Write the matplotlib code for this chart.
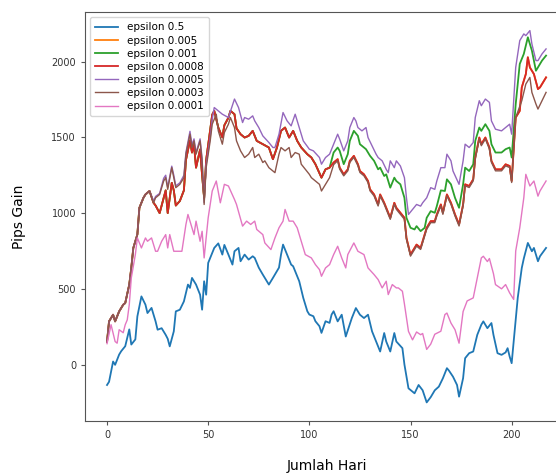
import matplotlib
matplotlib.use("Agg")
import matplotlib.pyplot as plt

# epsilon 0.5
blue_days = [0, 1, 3, 4, 6, 7, 9, 11, 12, 14, 15, 17, 19, 20, 22, 24, 25, 27, 29, 30, 31, 33, 34, 36, 38, 40, 41,
             42, 44, 46, 47, 48, 49, 50, 52, 53, 55, 57, 58, 60, 62, 63, 65, 66, 68, 70, 72, 73, 75, 77, 80, 82, 85,
             86, 87, 89, 91, 92, 95, 97, 99, 100, 102, 103, 105, 106, 108, 110, 111, 112, 114, 116, 118, 121, 123,
             125, 127, 129, 131, 133, 135, 137, 138, 140, 142, 143, 146, 147, 149, 152, 154, 156, 158, 160, 162, 164,
             166, 168, 169, 171, 173, 174, 176, 177, 179, 181, 183, 185, 186, 188, 190, 191, 193, 195, 197, 198, 199,
             200, 202, 203, 205, 206, 208, 210, 211, 213, 214, 217]
blue_vals = [-135, -114, 20, -2, 66, 88, 121, 232, 132, 166, 318, 450, 395, 340, 374, 285, 230, 240, 196, 170, 120,
             219, 351, 362, 417, 528, 506, 572, 528, 461, 362, 550, 461, 671, 737, 770, 800, 726, 790, 726, 660, 748,
             770, 682, 726, 693, 715, 704, 640, 594, 528, 572, 640, 726, 792, 726, 660, 649, 550, 440, 352, 330, 319,
             286, 253, 209, 286, 275, 330, 352, 285, 329, 185, 307, 373, 329, 307, 329, 219, 152, 86, 208, 152, 86,
             208, 152, 108, 0, -157, -190, -135, -170, -250, -215, -170, -146, -91, -24, -40, -80, -135, -212, -90,
             42, 75, 86, 196, 263, 285, 240, 274, 196, 75, 64, 80, 108, 53, 9, 300, 440, 638, 700, 803, 748, 770,
             682, 715, 770]

# epsilon 0.0001
pink_days = [0, 2, 4, 5, 6, 8, 9, 10, 11, 12, 14, 15, 17, 19, 20, 22, 24, 25, 27, 29, 30, 31, 33, 35, 37, 39, 40,
             41, 43, 44, 46, 47, 48, 50, 52, 54, 56, 58, 60, 63, 64, 67, 69, 71, 73, 74, 77, 78, 81, 83, 85, 87, 88,
             90, 92, 94, 96, 98, 101, 103, 105, 106, 108, 110, 112, 114, 116, 118, 119, 122, 124, 127, 129, 132, 134,
             136, 138, 139, 141, 143, 144, 146, 147, 149, 151, 153, 155, 156, 158, 160, 162, 165, 167, 168, 170, 172,
             174, 176, 178, 181, 183, 185, 186, 188, 189, 191, 192, 195, 197, 199, 201, 202, 204, 206, 207, 209, 211,
             213, 214, 217]
pink_vals = [138, 263, 152, 141, 230, 210, 263, 295, 395, 572, 726, 836, 770, 836, 814, 836, 748, 748, 814, 858, 770,
             858, 748, 748, 748, 925, 991, 947, 858, 947, 814, 880, 704, 969, 1146, 1212, 1068, 1190, 1179, 1090,
             1057, 914, 947, 925, 947, 892, 858, 803, 759, 836, 903, 947, 1024, 947, 947, 903, 814, 726, 704, 660,
             627, 583, 638, 660, 726, 781, 704, 638, 726, 803, 748, 726, 638, 594, 561, 506, 550, 462, 528, 506, 506,
             484, 400, 219, 163, 215, 197, 205, 100, 135, 200, 220, 330, 340, 274, 230, 141, 350, 420, 440, 572, 704,
             715, 680, 700, 600, 528, 500, 528, 473, 430, 750, 903, 1101, 1256, 1179, 1212, 1112, 1146, 1212]

# epsilon 0.0003
brown_days = [0, 1, 3, 4, 5, 6, 8, 9, 11, 12, 13, 15, 16, 18, 19, 21, 23, 24, 26, 28, 29, 30, 32, 33, 34, 36, 38,
              39, 41, 42, 43, 44, 46, 47, 48, 49, 51, 52, 54, 55, 57, 58, 60, 61, 63, 64, 66, 68, 70, 72, 73, 75, 77,
              78, 80, 82, 83, 85, 86, 88, 90, 91, 93, 95, 96, 98, 100, 101, 103, 105, 106, 108, 110, 112, 114, 115,
              117, 119, 120, 122, 124, 125, 127, 129, 130, 132, 134, 135, 137, 138, 140, 142, 143, 145, 147, 148, 150,
              151, 153, 155, 156, 158, 160, 162, 163, 165, 166, 168, 170, 172, 174, 176, 177, 179, 181, 182, 184, 185,
              187, 189, 190, 192, 195, 197, 199, 200, 202, 205, 207, 209, 210, 212, 213, 215, 217]
brown_vals = [150, 285, 329, 285, 318, 351, 395, 406, 528, 638, 770, 859, 1035, 1101, 1123, 1146, 1068, 1101, 1123,
              1212, 1234, 1157, 1300, 1234, 1168, 1190, 1234, 1389, 1521, 1433, 1477, 1389, 1477, 1345, 1057, 1300,
              1477, 1587, 1653, 1543, 1455, 1532, 1587, 1631, 1565, 1477, 1411, 1367, 1389, 1433, 1367, 1389, 1334,
              1345, 1300, 1278, 1267, 1389, 1433, 1411, 1433, 1367, 1400, 1389, 1323, 1289, 1256, 1234, 1212, 1190,
              1146, 1190, 1234, 1320, 1346, 1290, 1246, 1279, 1335, 1368, 1313, 1268, 1246, 1202, 1147, 1113, 1047,
              1113, 1058, 1025, 959, 1058, 1025, 992, 959, 826, 716, 738, 782, 760, 804, 893, 937, 937, 981, 1047,
              992, 1113, 1058, 981, 915, 1047, 1180, 1169, 1213, 1357, 1489, 1445, 1489, 1423, 1335, 1279, 1279, 1312,
              1301, 1202, 1631, 1742, 1852, 1896, 1797, 1720, 1687, 1742, 1797]

# epsilon 0.0008 (epsilon 0.005 lies under it)
red_days = [0, 1, 3, 4, 5, 6, 8, 9, 11, 12, 13, 15, 16, 18, 19, 21, 23, 24, 26, 28, 29, 30, 32, 33, 34, 36, 38, 39,
            41, 42, 43, 44, 46, 47, 48, 49, 51, 52, 53, 55, 57, 58, 60, 61, 63, 64, 66, 68, 70, 72, 74, 77, 80, 82,
            84, 86, 88, 90, 92, 94, 96, 99, 101, 103, 106, 108, 110, 112, 114, 115, 117, 119, 120, 122, 124, 125,
            127, 129, 130, 132, 134, 135, 137, 138, 140, 142, 143, 145, 147, 148, 150, 151, 153, 155, 156, 158, 160,
            162, 163, 165, 166, 168, 170, 172, 174, 176, 177, 179, 181, 182, 184, 185, 187, 189, 190, 192, 195, 197,
            199, 200, 202, 204, 205, 207, 208, 209, 211, 213, 214, 217]
red_vals = [150, 285, 329, 285, 318, 351, 395, 406, 528, 638, 770, 859, 1035, 1101, 1123, 1146, 1068, 1050, 1000,
            1100, 1150, 1000, 1200, 1150, 1050, 1080, 1150, 1350, 1480, 1400, 1450, 1300, 1420, 1250, 1100, 1350,
            1550, 1650, 1675, 1565, 1500, 1580, 1630, 1675, 1653, 1560, 1521, 1499, 1510, 1543, 1477, 1455, 1433,
            1356, 1433, 1543, 1565, 1499, 1543, 1477, 1433, 1389, 1367, 1323, 1234, 1289, 1300, 1334, 1356, 1300,
            1256, 1289, 1345, 1378, 1323, 1278, 1256, 1212, 1157, 1123, 1057, 1123, 1068, 1035, 969, 1068, 1035,
            1002, 969, 836, 726, 748, 792, 770, 814, 903, 947, 947, 991, 1057, 1002, 1123, 1068, 991, 925, 1057,
            1190, 1179, 1223, 1367, 1499, 1455, 1499, 1433, 1345, 1289, 1289, 1322, 1311, 1212, 1631, 1675, 1830,
            1918, 2029, 1962, 1918, 1819, 1830, 1896]

# epsilon 0.001 (under red before day 112)
green_days = [112, 114, 115, 117, 119, 120, 122, 124, 125, 127, 128, 130, 132, 134, 135, 137, 138, 140, 142, 143,
              145, 147, 148, 150, 152, 153, 155, 157, 158, 160, 162, 163, 165, 167, 168, 170, 172, 174, 176, 177,
              179, 181, 182, 184, 185, 187, 189, 190, 192, 195, 197, 199, 200, 202, 204, 206, 208, 210, 212, 213,
              215, 217]
green_vals = [1400, 1433, 1411, 1323, 1389, 1477, 1543, 1510, 1455, 1433, 1422, 1378, 1345, 1289, 1300, 1245, 1256,
              1168, 1234, 1212, 1190, 1101, 969, 903, 892, 914, 881, 903, 969, 1013, 1002, 1046, 1150, 1146, 1223,
              1190, 1101, 1035, 1190, 1300, 1278, 1322, 1477, 1565, 1543, 1587, 1543, 1455, 1400, 1400, 1422, 1433,
              1367, 1720, 1985, 2051, 2161, 2073, 1940, 1962, 2007, 2040]

# epsilon 0.0005
purple_days = [0, 1, 3, 4, 5, 6, 8, 9, 11, 12, 13, 15, 16, 18, 19, 21, 23, 24, 26, 28, 29, 30, 32, 33, 34, 36, 38,
               39, 41, 42, 43, 44, 46, 47, 48, 49, 51, 52, 53, 55, 57, 60, 63, 65, 67, 68, 70, 72, 73, 75, 77, 80,
               82, 83, 85, 87, 89, 91, 93, 95, 97, 100, 102, 105, 106, 108, 110, 112, 114, 115, 117, 119, 120, 122,
               123, 124, 126, 128, 129, 131, 133, 134, 136, 138, 139, 140, 142, 143, 145, 147, 148, 149, 151, 153,
               155, 156, 158, 160, 162, 163, 165, 167, 168, 170, 171, 174, 176, 177, 179, 181, 182, 184, 185, 187,
               189, 190, 192, 195, 197, 199, 200, 202, 204, 206, 207, 209, 210, 212, 213, 215, 217]
purple_vals = [150, 285, 329, 285, 318, 351, 395, 406, 528, 638, 770, 859, 1035, 1101, 1123, 1146, 1080, 1110,
               1130, 1230, 1250, 1170, 1310, 1250, 1180, 1200, 1250, 1400, 1540, 1450, 1490, 1400, 1490, 1360, 1070,
               1320, 1500, 1620, 1697, 1675, 1653, 1631, 1753, 1697, 1598, 1631, 1620, 1642, 1609, 1565, 1510, 1466,
               1433, 1433, 1521, 1664, 1609, 1576, 1653, 1565, 1477, 1422, 1411, 1367, 1323, 1367, 1389, 1455, 1521,
               1488, 1411, 1477, 1565, 1631, 1609, 1565, 1543, 1565, 1499, 1444, 1389, 1367, 1345, 1289, 1267, 1345,
               1300, 1345, 1311, 1234, 1101, 991, 1024, 1057, 1046, 1068, 1101, 1168, 1157, 1212, 1300, 1300, 1389,
               1345, 1278, 1190, 1345, 1455, 1433, 1466, 1631, 1742, 1709, 1753, 1731, 1609, 1554, 1543, 1565, 1587,
               1521, 1962, 2139, 2183, 2172, 2205, 2117, 2007, 2007, 2051, 2084]

# green follows red until it splits off
green_days = [d for d in red_days if d < 112] + green_days
green_vals = [v for d, v in zip(red_days, red_vals) if d < 112] + green_vals

fig = plt.figure(figsize=(5.56, 4.75), dpi=100)
ax = fig.add_axes([0.153, 0.1137, 0.8686, 0.861])

ax.plot(blue_days, blue_vals, color='#1f77b4', lw=1.3, label='epsilon 0.5')
ax.plot(red_days, red_vals, color='#ff7f0e', lw=1.3, label='epsilon 0.005')
ax.plot(green_days, green_vals, color='#2ca02c', lw=1.3, label='epsilon 0.001')
ax.plot(red_days, red_vals, color='#d62728', lw=1.3, label='epsilon 0.0008')
ax.plot(purple_days, purple_vals, color='#9467bd', lw=1.0, label='epsilon 0.0005')
ax.plot(brown_days, brown_vals, color='#8c564b', lw=1.0, label='epsilon 0.0003')
ax.plot(pink_days, pink_vals, color='#e377c2', lw=1.0, label='epsilon 0.0001')

ax.set_xticks([0, 50, 100, 150, 200])
ax.set_yticks([0, 500, 1000, 1500, 2000])
ax.tick_params(labelsize=7, length=3, color='#555555', labelcolor='#333333')
for s in ax.spines.values():
    s.set_color('#555555')
ax.spines['right'].set_visible(False)
ax.set_xlabel('Jumlah Hari', fontsize=10, labelpad=14)
ax.set_ylabel('Pips Gain', fontsize=10, labelpad=18)
ax.legend(loc='upper left', fontsize=7.5, handlelength=2.2, borderpad=0.5, labelspacing=0.3)

fig.savefig('out.png', dpi=100)
